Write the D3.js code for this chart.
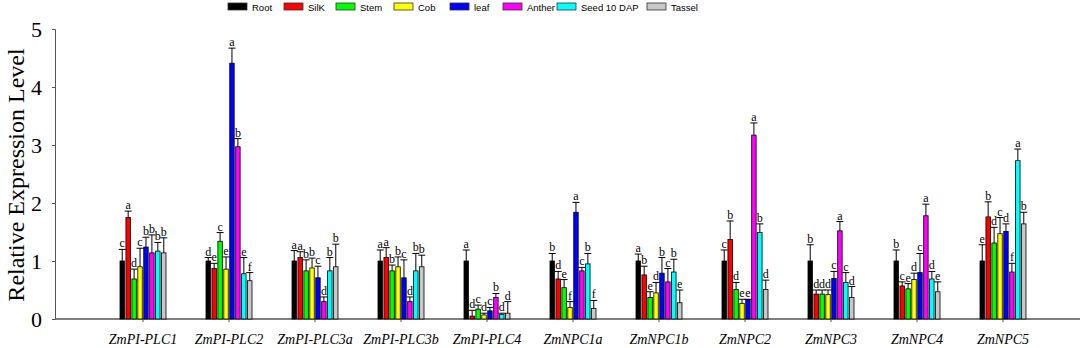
<!DOCTYPE html>
<html>
<head>
<script src="https://d3js.org/d3.v7.min.js"></script>
<style>
  body { margin: 0; background: #fff; }
  .legend text { font-family: Arial, "Liberation Sans", sans-serif; font-size: 9.5px; }
  .axis text { font-family: "Times New Roman", "Liberation Serif", serif; }
  .letter { font-family: "Times New Roman", "Liberation Serif", serif; font-size: 12px; }
</style>
</head>
<body>
<div id="chart"></div>
<script>
var genes = ["ZmPI-PLC1", "ZmPI-PLC2", "ZmPI-PLC3a", "ZmPI-PLC3b", "ZmPI-PLC4",
  "ZmNPC1a", "ZmNPC1b", "ZmNPC2", "ZmNPC3", "ZmNPC4", "ZmNPC5"];
var tissues = ["Root", "SilK", "Stem", "Cob", "leaf", "Anther", "Seed 10 DAP", "Tassel"];
var colors = ["#000000", "#ff0000", "#00ff00", "#ffff00", "#0000ff", "#ff00ff", "#00ffff", "#c8c8c8"];
var yTicks = [0, 1, 2, 3, 4, 5];

// mean per gene, one column per tissue
var means = [
  [1.00, 1.75, 0.69, 0.90, 1.24, 1.14, 1.17, 1.14],
  [1.00, 0.87, 1.34, 0.86, 4.41, 2.97, 0.78, 0.66],
  [1.00, 1.06, 0.83, 0.88, 0.71, 0.30, 0.83, 0.90],
  [1.00, 1.06, 0.83, 0.90, 0.71, 0.30, 0.83, 0.90],
  [1.00, 0.05, 0.17, 0.07, 0.14, 0.37, 0.08, 0.10],
  [1.00, 0.69, 0.54, 0.20, 1.84, 0.83, 0.95, 0.18],
  [1.00, 0.76, 0.37, 0.45, 0.79, 0.64, 0.81, 0.28],
  [1.00, 1.37, 0.51, 0.27, 0.33, 3.17, 1.49, 0.51],
  [1.00, 0.43, 0.43, 0.42, 0.70, 1.52, 0.63, 0.37],
  [1.00, 0.57, 0.52, 0.68, 0.80, 1.78, 0.69, 0.47],
  [1.00, 1.76, 1.31, 1.47, 1.51, 0.81, 2.73, 1.64]
];
// top of error bar
var upper = [
  [1.20, 1.86, 0.86, 1.22, 1.41, 1.45, 1.32, 1.40],
  [1.06, 0.96, 1.49, 1.07, 4.67, 3.11, 1.06, 0.80],
  [1.18, 1.16, 1.02, 1.05, 0.91, 0.38, 1.06, 1.29],
  [1.19, 1.23, 0.93, 1.07, 1.02, 0.38, 1.13, 1.10],
  [1.19, 0.15, 0.24, 0.10, 0.20, 0.44, 0.10, 0.30],
  [1.13, 0.82, 0.68, 0.30, 2.01, 0.89, 1.13, 0.32],
  [1.12, 0.91, 0.47, 0.63, 1.06, 0.87, 1.03, 0.50],
  [1.19, 1.69, 0.63, 0.34, 0.34, 3.38, 1.64, 0.67],
  [1.28, 0.50, 0.50, 0.50, 0.82, 1.68, 0.80, 0.56],
  [1.19, 0.64, 0.61, 0.79, 1.13, 1.98, 0.82, 0.64],
  [1.28, 2.02, 1.58, 1.75, 1.64, 0.96, 2.93, 1.84]
];
var letters = [
  ["c", "a", "d", "c", "b", "b", "b", "b"],
  ["d", "e", "c", "e", "a", "b", "e", "f"],
  ["a", "a", "b", "b", "c", "d", "b", "b"],
  ["a", "a", "b", "b", "c", "d", "b", "b"],
  ["a", "d", "c", "d", "c", "b", "d", "d"],
  ["b", "d", "e", "f", "a", "c", "b", "f"],
  ["a", "b", "e", "d", "b", "c", "b", "e"],
  ["c", "b", "d", "e", "e", "a", "b", "d"],
  ["b", "d", "d", "d", "c", "a", "c", "d"],
  ["b", "c", "e", "d", "c", "a", "d", "e"],
  ["e", "b", "d", "c", "d", "f", "a", "b"]
];

var width = 1084, height = 348;
var x0 = 55, y0 = 319;

var svg = d3.select("#chart").append("svg")
  .attr("width", width).attr("height", height);

var y = d3.scaleLinear().domain([0, 5]).range([y0, 29]);
var x = d3.scaleBand().domain(genes).range([100, 1046]);
var xIn = d3.scaleBand().domain(tissues).range([-23, 23]).paddingInner(0.25);

// y axis
var yAxis = svg.append("g").attr("class", "axis")
  .attr("transform", "translate(" + x0 + ",0)")
  .call(d3.axisLeft(y).tickValues(yTicks).tickSize(3).tickPadding(10).tickFormat(d3.format("d")));
yAxis.selectAll("text").style("font-size", "22px").attr("dy", "0.35em");
yAxis.select(".domain").attr("stroke", "#555");
yAxis.selectAll(".tick line").attr("stroke", "#555");

// x axis
var xAxis = svg.append("g").attr("class", "axis")
  .attr("transform", "translate(0," + y0 + ")")
  .call(d3.axisBottom(x).tickSize(3).tickPadding(12));
xAxis.select(".domain").remove();
xAxis.append("line").attr("x1", x0).attr("x2", 1080).attr("stroke", "#555").attr("stroke-width", 1.5);
xAxis.selectAll(".tick line").attr("stroke", "#555");
xAxis.selectAll(".tick text").style("font-size", "14px").style("font-style", "italic").attr("fill", "#000");

svg.append("text")
  .attr("transform", "translate(24," + 175 + ") rotate(-90)")
  .attr("text-anchor", "middle")
  .style("font-family", "'Times New Roman', 'Liberation Serif', serif")
  .style("font-size", "24px")
  .text("Relative Expression Level");

// bars
var rows = [];
genes.forEach(function (g, gi) {
  tissues.forEach(function (t, ti) {
    rows.push({ gene: g, tissue: t, ti: ti, v: means[gi][ti], up: upper[gi][ti], lab: letters[gi][ti] });
  });
});

var grp = svg.selectAll(".bar").data(rows).enter().append("g")
  .attr("class", "bar")
  .attr("transform", function (d) { return "translate(" + (x(d.gene) + x.bandwidth() / 2 + xIn(d.tissue)) + ",0)"; });

grp.append("rect")
  .attr("x", 0).attr("width", xIn.bandwidth())
  .attr("y", function (d) { return y(d.v); })
  .attr("height", function (d) { return y0 - y(d.v); })
  .attr("fill", function (d) { return colors[d.ti]; })
  .attr("stroke", "#000").attr("stroke-width", 0.8);

var cx = xIn.bandwidth() / 2;
grp.append("line")
  .attr("x1", cx).attr("x2", cx)
  .attr("y1", function (d) { return y(d.v); })
  .attr("y2", function (d) { return y(d.up); })
  .attr("stroke", "#000").attr("stroke-width", 1);
grp.append("line")
  .attr("x1", cx - 3.5).attr("x2", cx + 3.5)
  .attr("y1", function (d) { return y(d.up); })
  .attr("y2", function (d) { return y(d.up); })
  .attr("stroke", "#000").attr("stroke-width", 1);
grp.append("text").attr("class", "letter")
  .attr("x", cx).attr("y", function (d) { return y(d.up) - 2; })
  .attr("text-anchor", "middle")
  .text(function (d) { return d.lab; });

// legend
var legendX = [228, 284, 336, 394, 450, 503, 557, 647];
var legend = svg.append("g").attr("class", "legend");
var li = legend.selectAll("g").data(tissues).enter().append("g")
  .attr("transform", function (d, i) { return "translate(" + legendX[i] + ",3)"; });
li.append("rect").attr("width", 19).attr("height", 7)
  .attr("fill", function (d, i) { return colors[i]; })
  .attr("stroke", "#333").attr("stroke-width", 0.8);
li.append("text").attr("x", 24).attr("y", 8).text(function (d) { return d; });
</script>
</body>
</html>
